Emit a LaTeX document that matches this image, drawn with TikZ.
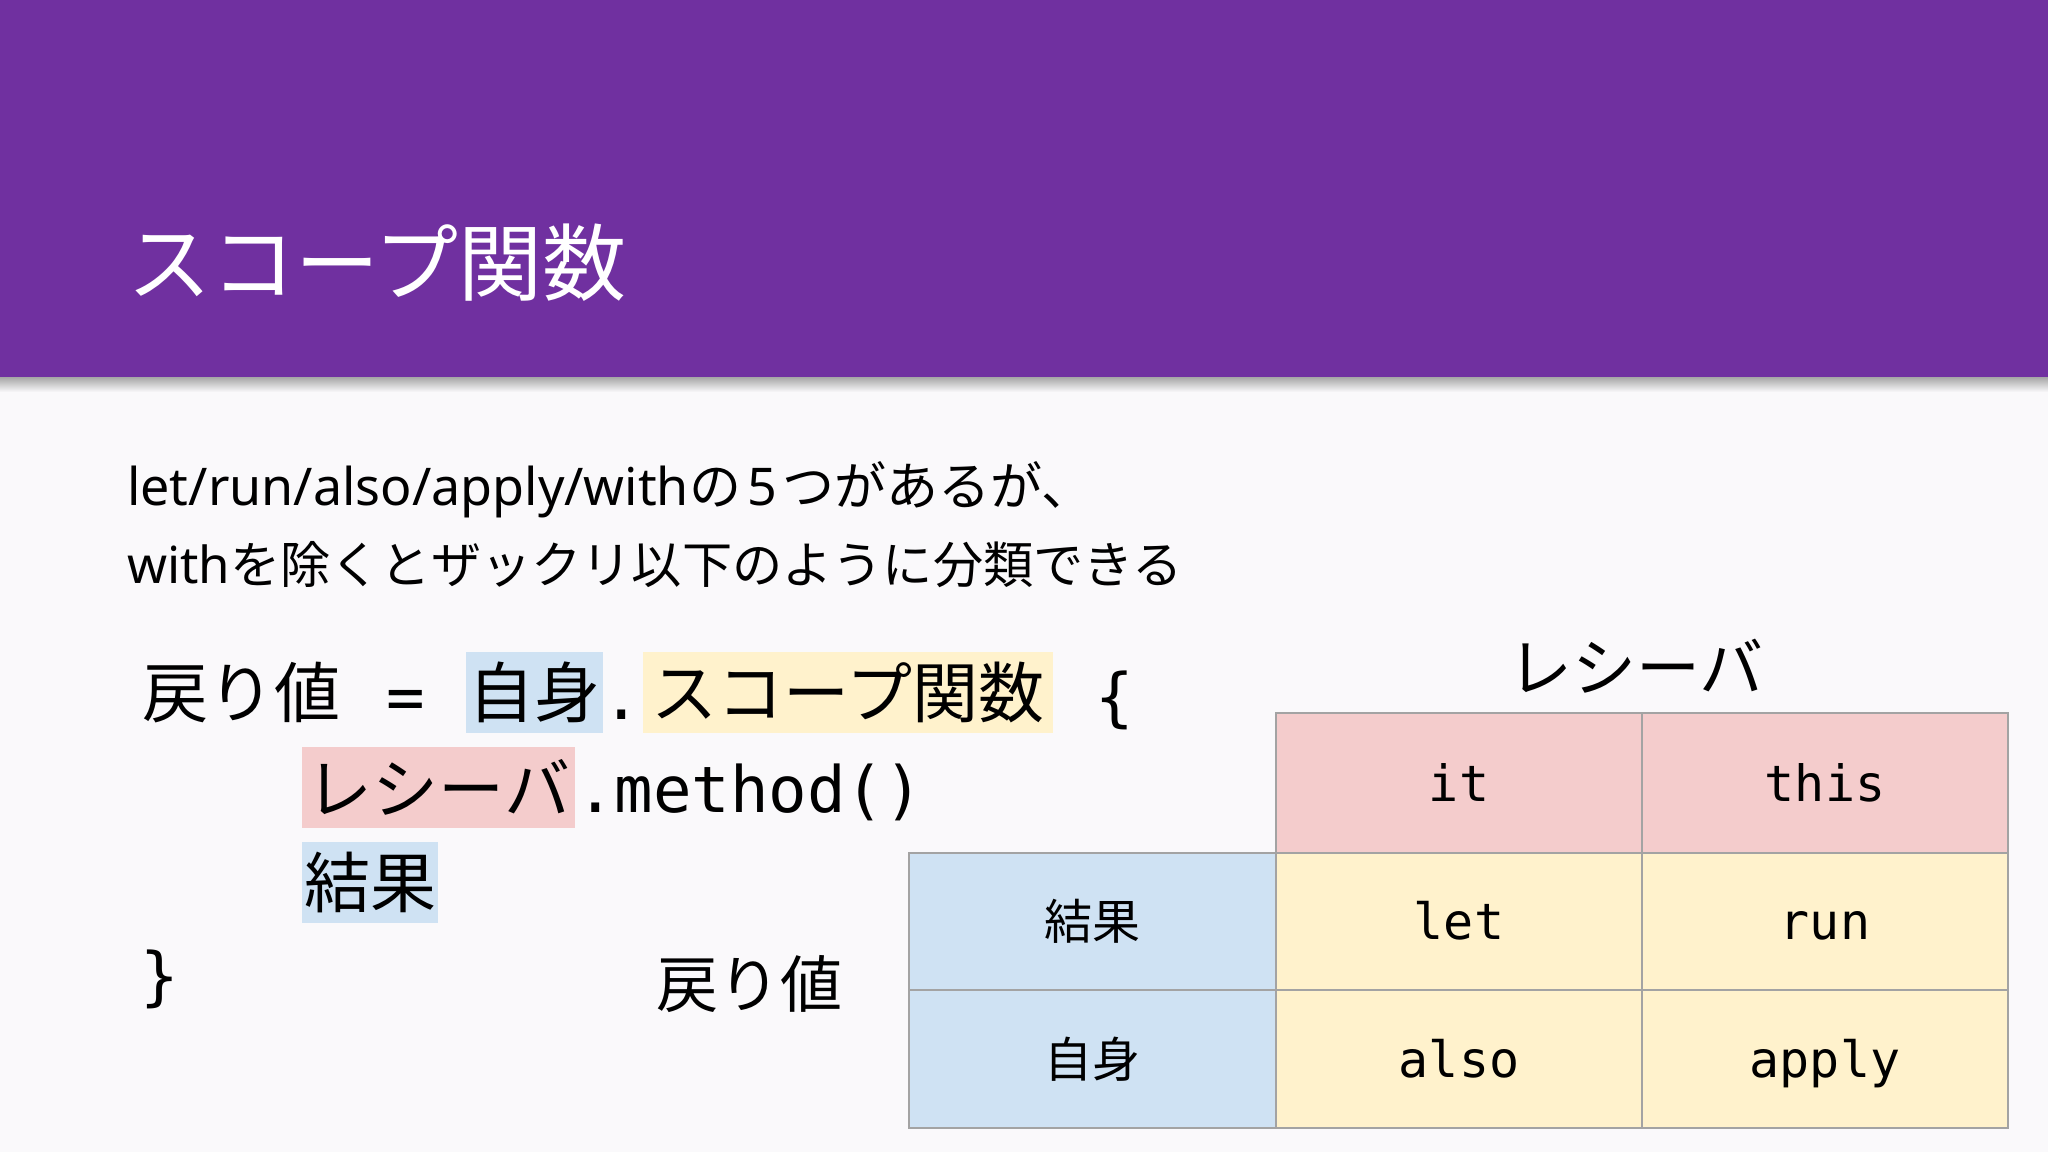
\documentclass[tikz,border=0pt]{standalone}
\usepackage{fontspec}
\setmainfont{Noto Sans CJK JP}
\newfontfamily\jpfont{Noto Sans CJK JP}
\newfontfamily\latinfont{Noto Sans}
\newfontfamily\monofont{DejaVu Sans Mono}
\newcommand\myfs[1]{\fontsize{#1}{#1}\selectfont}
\definecolor{hdrpurple}{HTML}{7030A0}
\definecolor{pagebg}{HTML}{FAF9FB}
\definecolor{hlblue}{HTML}{CFE2F3}
\definecolor{hlyellow}{HTML}{FFF2CC}
\definecolor{hlpink}{HTML}{F4CCCC}
\definecolor{tblgray}{HTML}{A3A3A3}
\begin{document}
\begin{tikzpicture}[x=1pt,y=-1pt,
  jpcode/.style={inner sep=0pt, font={\jpfont\myfs{66}}},
  monocode/.style={inner sep=0pt, font={\monofont\myfs{64}}},
  hlbox/.style={jpcode, minimum height=81pt},
  cell/.style={draw=tblgray, line width=2pt, inner sep=0pt, anchor=north west,
    text height=36pt, text depth=0pt, font={\monofont\myfs{50}}},
  jpcell/.style={cell, text height=40pt, text depth=4pt, font={\jpfont\myfs{48}}},
  bodytext/.style={anchor=base west, inner sep=0pt}
]
\useasboundingbox (0,0) rectangle (2048,1152);
\fill[pagebg] (0,0) rectangle (2048,1152);
% header
\shade[top color=black!35, bottom color=pagebg] (0,377) rectangle (2048,392);
\fill[hdrpurple] (0,0) rectangle (2048,377);
\node[anchor=west, inner sep=0pt, text=white, font={\jpfont\myfs{84}}] (title) at (127,263) {スコープ関数};

% body text
\node[bodytext, font={\jpfont\myfs{52}}] (line1) at (127,505)
  {{\latinfont let/run/also/apply/with}の\hspace{6pt}{\latinfont 5}\hspace{6pt}つがあるが、};
\node[bodytext, font={\jpfont\myfs{50.2}}] (line2) at (127,583)
  {{\latinfont\myfs{51}with}を除くとザックリ以下のように分類できる};

% code
\node[jpcode] (ret1) at (241,693) {戻り値};
\node[monocode, anchor=base] (eq) at (406,719) {=};
\node[hlbox, fill=hlblue, minimum width=137pt] (self1) at (534.5,692.5) {自身};
\node[monocode, anchor=base] (dot1) at (622,719) {.};
\node[hlbox, fill=hlyellow, minimum width=410pt] (scope1) at (848,692.5) {スコープ関数};
\node[monocode, anchor=base] (lbrace) at (1115,719) {\{};

\node[hlbox, fill=hlpink, minimum width=273pt] (recv1) at (438.5,787) {レシーバ};
\node[monocode, anchor=base west] (method) at (576,812) {.method()};

\node[hlbox, fill=hlblue, minimum width=136pt] (result1) at (370,882) {結果};

\node[monocode, anchor=base] (rbrace) at (160,998) {\}};
\node[inner sep=0pt, font={\jpfont\myfs{62}}] (ret2) at (749,984) {戻り値};

% table
\node[font={\jpfont\myfs{64}}, inner sep=0pt] (recvlabel) at (1636,666) {レシーバ};

\node[cell, fill=hlpink, minimum width=366pt, minimum height=140pt] (it) at (1275,712) {it};
\node[cell, fill=hlpink, minimum width=366pt, minimum height=140pt] (this) at (1641,712) {this};

\node[jpcell, fill=hlblue, minimum width=367pt, minimum height=137pt] (result2) at (908,852) {結果};
\node[cell, fill=hlyellow, minimum width=366pt, minimum height=137pt] (let) at (1275,852) {let};
\node[cell, fill=hlyellow, minimum width=366pt, minimum height=137pt] (run) at (1641,852) {run};

\node[jpcell, fill=hlblue, minimum width=367pt, minimum height=138pt] (self2) at (908,989) {自身};
\node[cell, fill=hlyellow, minimum width=366pt, minimum height=138pt] (also) at (1275,989) {also};
\node[cell, fill=hlyellow, minimum width=366pt, minimum height=138pt] (apply) at (1641,989) {apply};
\end{tikzpicture}
\end{document}
